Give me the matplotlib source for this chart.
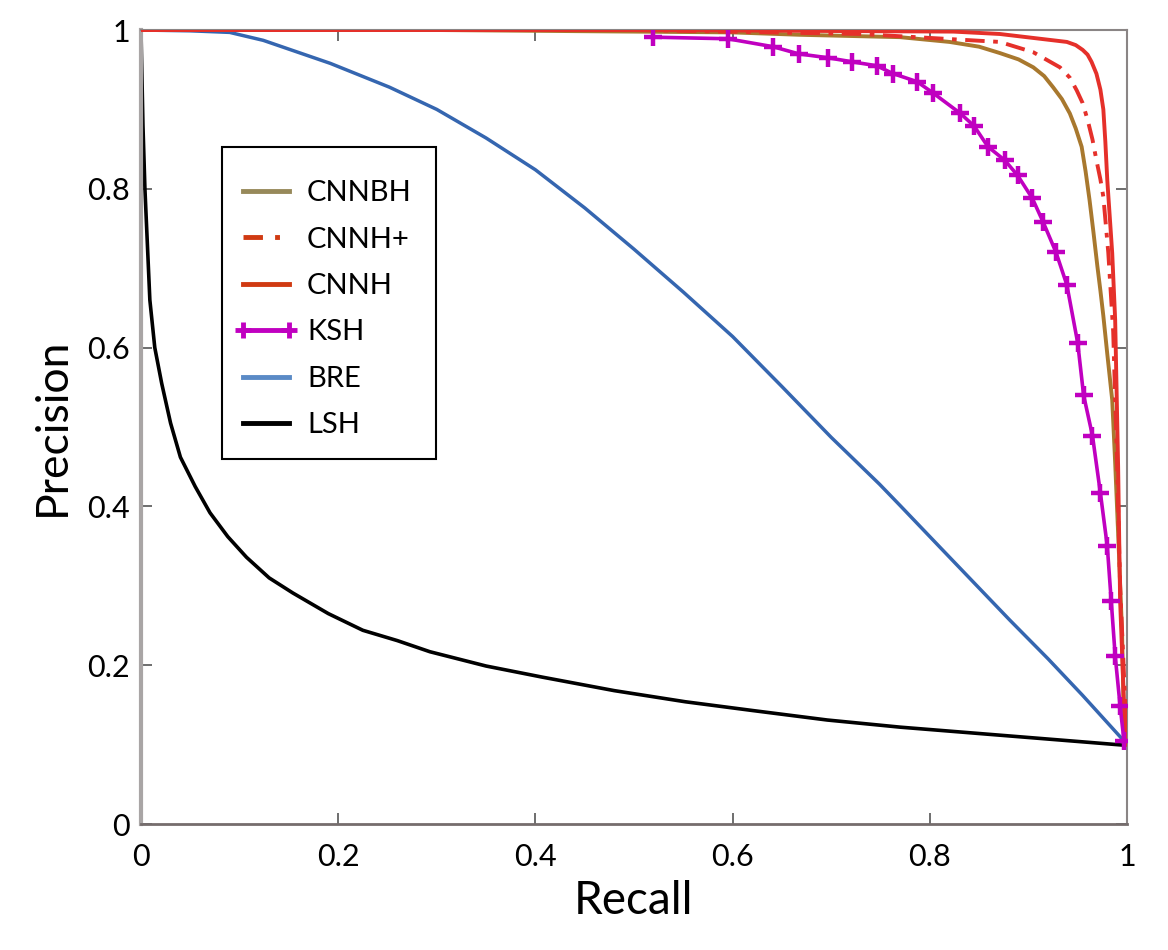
import matplotlib
matplotlib.use("Agg")
import matplotlib.pyplot as plt
from matplotlib.lines import Line2D
from matplotlib.patches import Rectangle

plt.rcParams['font.family'] = ['Lato', 'DejaVu Sans']

# === Data ===
lsh_x = [0, 0.002, 0.004, 0.009, 0.014, 0.021, 0.030, 0.040, 0.055, 0.070, 0.088, 0.107, 0.130, 0.154,
         0.190, 0.225, 0.260, 0.293, 0.350, 0.407, 0.480, 0.552, 0.620, 0.696, 0.770, 0.840, 0.920, 1.0]
lsh_y = [1.0, 0.88, 0.80, 0.66, 0.60, 0.555, 0.505, 0.462, 0.425, 0.392, 0.362, 0.336, 0.310, 0.291,
         0.265, 0.244, 0.231, 0.217, 0.199, 0.185, 0.168, 0.154, 0.143, 0.131, 0.122, 0.115, 0.107, 0.099]

bre_x = [0, 0.05, 0.09, 0.124, 0.192, 0.252, 0.3, 0.35, 0.4, 0.45, 0.5, 0.55, 0.6, 0.65, 0.7,
         0.749, 0.770, 0.810, 0.881, 0.920, 0.955, 0.993, 1.0]
bre_y = [1.0, 0.999, 0.997, 0.987, 0.958, 0.928, 0.900, 0.864, 0.824, 0.776, 0.724, 0.670, 0.614, 0.551, 0.487,
         0.428, 0.401, 0.349, 0.257, 0.208, 0.162, 0.110, 0.10]

ksh_x = [0.519, 0.595, 0.641, 0.667, 0.697, 0.721, 0.746, 0.763, 0.787, 0.803, 0.831, 0.845, 0.859, 0.876,
         0.889, 0.904, 0.915, 0.928, 0.939, 0.950, 0.956, 0.965, 0.973, 0.980, 0.984, 0.988, 0.993, 0.997]
ksh_y = [0.991, 0.989, 0.979, 0.970, 0.965, 0.960, 0.955, 0.945, 0.935, 0.921, 0.895, 0.879, 0.853, 0.836,
         0.817, 0.788, 0.758, 0.720, 0.679, 0.606, 0.540, 0.489, 0.417, 0.350, 0.281, 0.212, 0.149, 0.104]

cnnbh_x = [0, 0.3, 0.6, 0.668, 0.770, 0.820, 0.850, 0.871, 0.890, 0.905, 0.916, 0.925, 0.934, 0.942, 0.948,
           0.954, 0.958, 0.962, 0.966, 0.970, 0.973, 0.976, 0.980, 0.985, 0.988, 0.991, 0.995, 0.997, 1.0]
cnnbh_y = [1.0, 1.0, 0.997, 0.994, 0.991, 0.985, 0.979, 0.971, 0.963, 0.953, 0.942, 0.928, 0.913, 0.895, 0.876,
           0.853, 0.822, 0.786, 0.745, 0.702, 0.672, 0.640, 0.592, 0.534, 0.455, 0.366, 0.241, 0.115, 0.10]

cnnh_x = [0, 0.5, 0.824, 0.871, 0.939, 0.948, 0.955, 0.960, 0.964, 0.969, 0.973, 0.976, 0.978, 0.980,
          0.985, 0.988, 0.991, 0.993, 0.997, 1.0]
cnnh_y = [1.0, 1.0, 0.998, 0.995, 0.985, 0.981, 0.975, 0.969, 0.960, 0.945, 0.925, 0.900, 0.860, 0.811,
          0.719, 0.635, 0.45, 0.282, 0.15, 0.10]

cnnhp_x = [0, 0.5, 0.73, 0.871, 0.905, 0.932, 0.942, 0.949, 0.955, 0.960, 0.965, 0.969, 0.973, 0.976,
           0.981, 0.986, 0.990, 0.993, 1.0]
cnnhp_y = [1.0, 1.0, 0.995, 0.985, 0.972, 0.953, 0.940, 0.924, 0.908, 0.887, 0.862, 0.836, 0.812, 0.790,
           0.72, 0.62, 0.45, 0.3, 0.10]

ticks = [0, 0.2, 0.4, 0.6, 0.8, 1.0]
tick_labels = ['0', '0.2', '0.4', '0.6', '0.8', '1']

red = '#e5302a'
dashdot = (0, (5, 2.2, 1.2, 2.2))

# === Plot ===
fig = plt.figure(figsize=(11.68, 9.5), dpi=100)
ax = fig.add_axes([0.1207, 0.1326, 0.9649 - 0.1207, 0.9684 - 0.1326])

ax.plot(lsh_x, lsh_y, color='black', lw=2.6, zorder=2)
ax.plot(bre_x, bre_y, color='#3566b0', lw=2.5, zorder=2)
ax.plot(cnnbh_x, cnnbh_y, color='#a8782e', lw=2.8, zorder=3)
ax.plot(cnnhp_x, cnnhp_y, color=red, lw=2.8, ls=dashdot, zorder=4)
ax.plot(cnnh_x, cnnh_y, color=red, lw=2.8, zorder=4)
ax.plot(ksh_x, ksh_y, color='#c000c0', lw=2.6, marker='+', ms=13, mew=3.2, zorder=5)

ax.set_xlim(0, 1)
ax.set_ylim(0, 1)
ax.set_xticks(ticks)
ax.set_xticklabels(tick_labels)
ax.set_yticks(ticks)
ax.set_yticklabels(tick_labels)
ax.tick_params(direction='in', length=8, width=1.2, color='#555555',
               top=True, right=True, labelsize=22)
ax.tick_params(axis='x', pad=14)
ax.tick_params(axis='y', pad=8)

ax.spines['left'].set_color('#a9a5a5')
ax.spines['left'].set_linewidth(3)
ax.spines['bottom'].set_color('#756d6d')
ax.spines['bottom'].set_linewidth(2)
ax.spines['top'].set_color('#8a8585')
ax.spines['top'].set_linewidth(1.5)
ax.spines['right'].set_color('#8a8585')
ax.spines['right'].set_linewidth(1.5)

ax.set_xlabel('Recall', fontsize=33, labelpad=6)
ax.set_ylabel('Precision', fontsize=32, labelpad=10)

# Legend with its own handle colours (the legend swatches differ a bit from the lines)
handles = [
    Line2D([], [], color='#97895a', lw=3.5),
    Line2D([], [], color='#d03a12', lw=3.5, ls=(0, (4, 2.5, 1, 2.5))),
    Line2D([], [], color='#d03a12', lw=3.5),
    Line2D([], [], color='#c000c0', lw=3.5, marker='+', ms=12, mew=3.5),
    Line2D([], [], color='#5a8ac6', lw=3.5),
    Line2D([], [], color='black', lw=3.5),
]
names = ['CNNBH', 'CNNH+', 'CNNH', 'KSH', 'BRE', 'LSH']
ax.legend(handles, names, loc='upper left', bbox_to_anchor=(0.0943, 0.811),
          borderaxespad=0, fontsize=21, frameon=False,
          handlelength=2.2, handletextpad=0.3, labelspacing=0.70,
          borderpad=0, numpoints=2)

# the legend frame in the reference has more room above and below the entries
ax.add_patch(Rectangle((0.0822, 0.4597), 0.2170, 0.3929, transform=ax.transAxes,
                       fill=False, edgecolor='black', lw=1.5, zorder=6))

plt.savefig('out.png', dpi=100)
plt.close()
